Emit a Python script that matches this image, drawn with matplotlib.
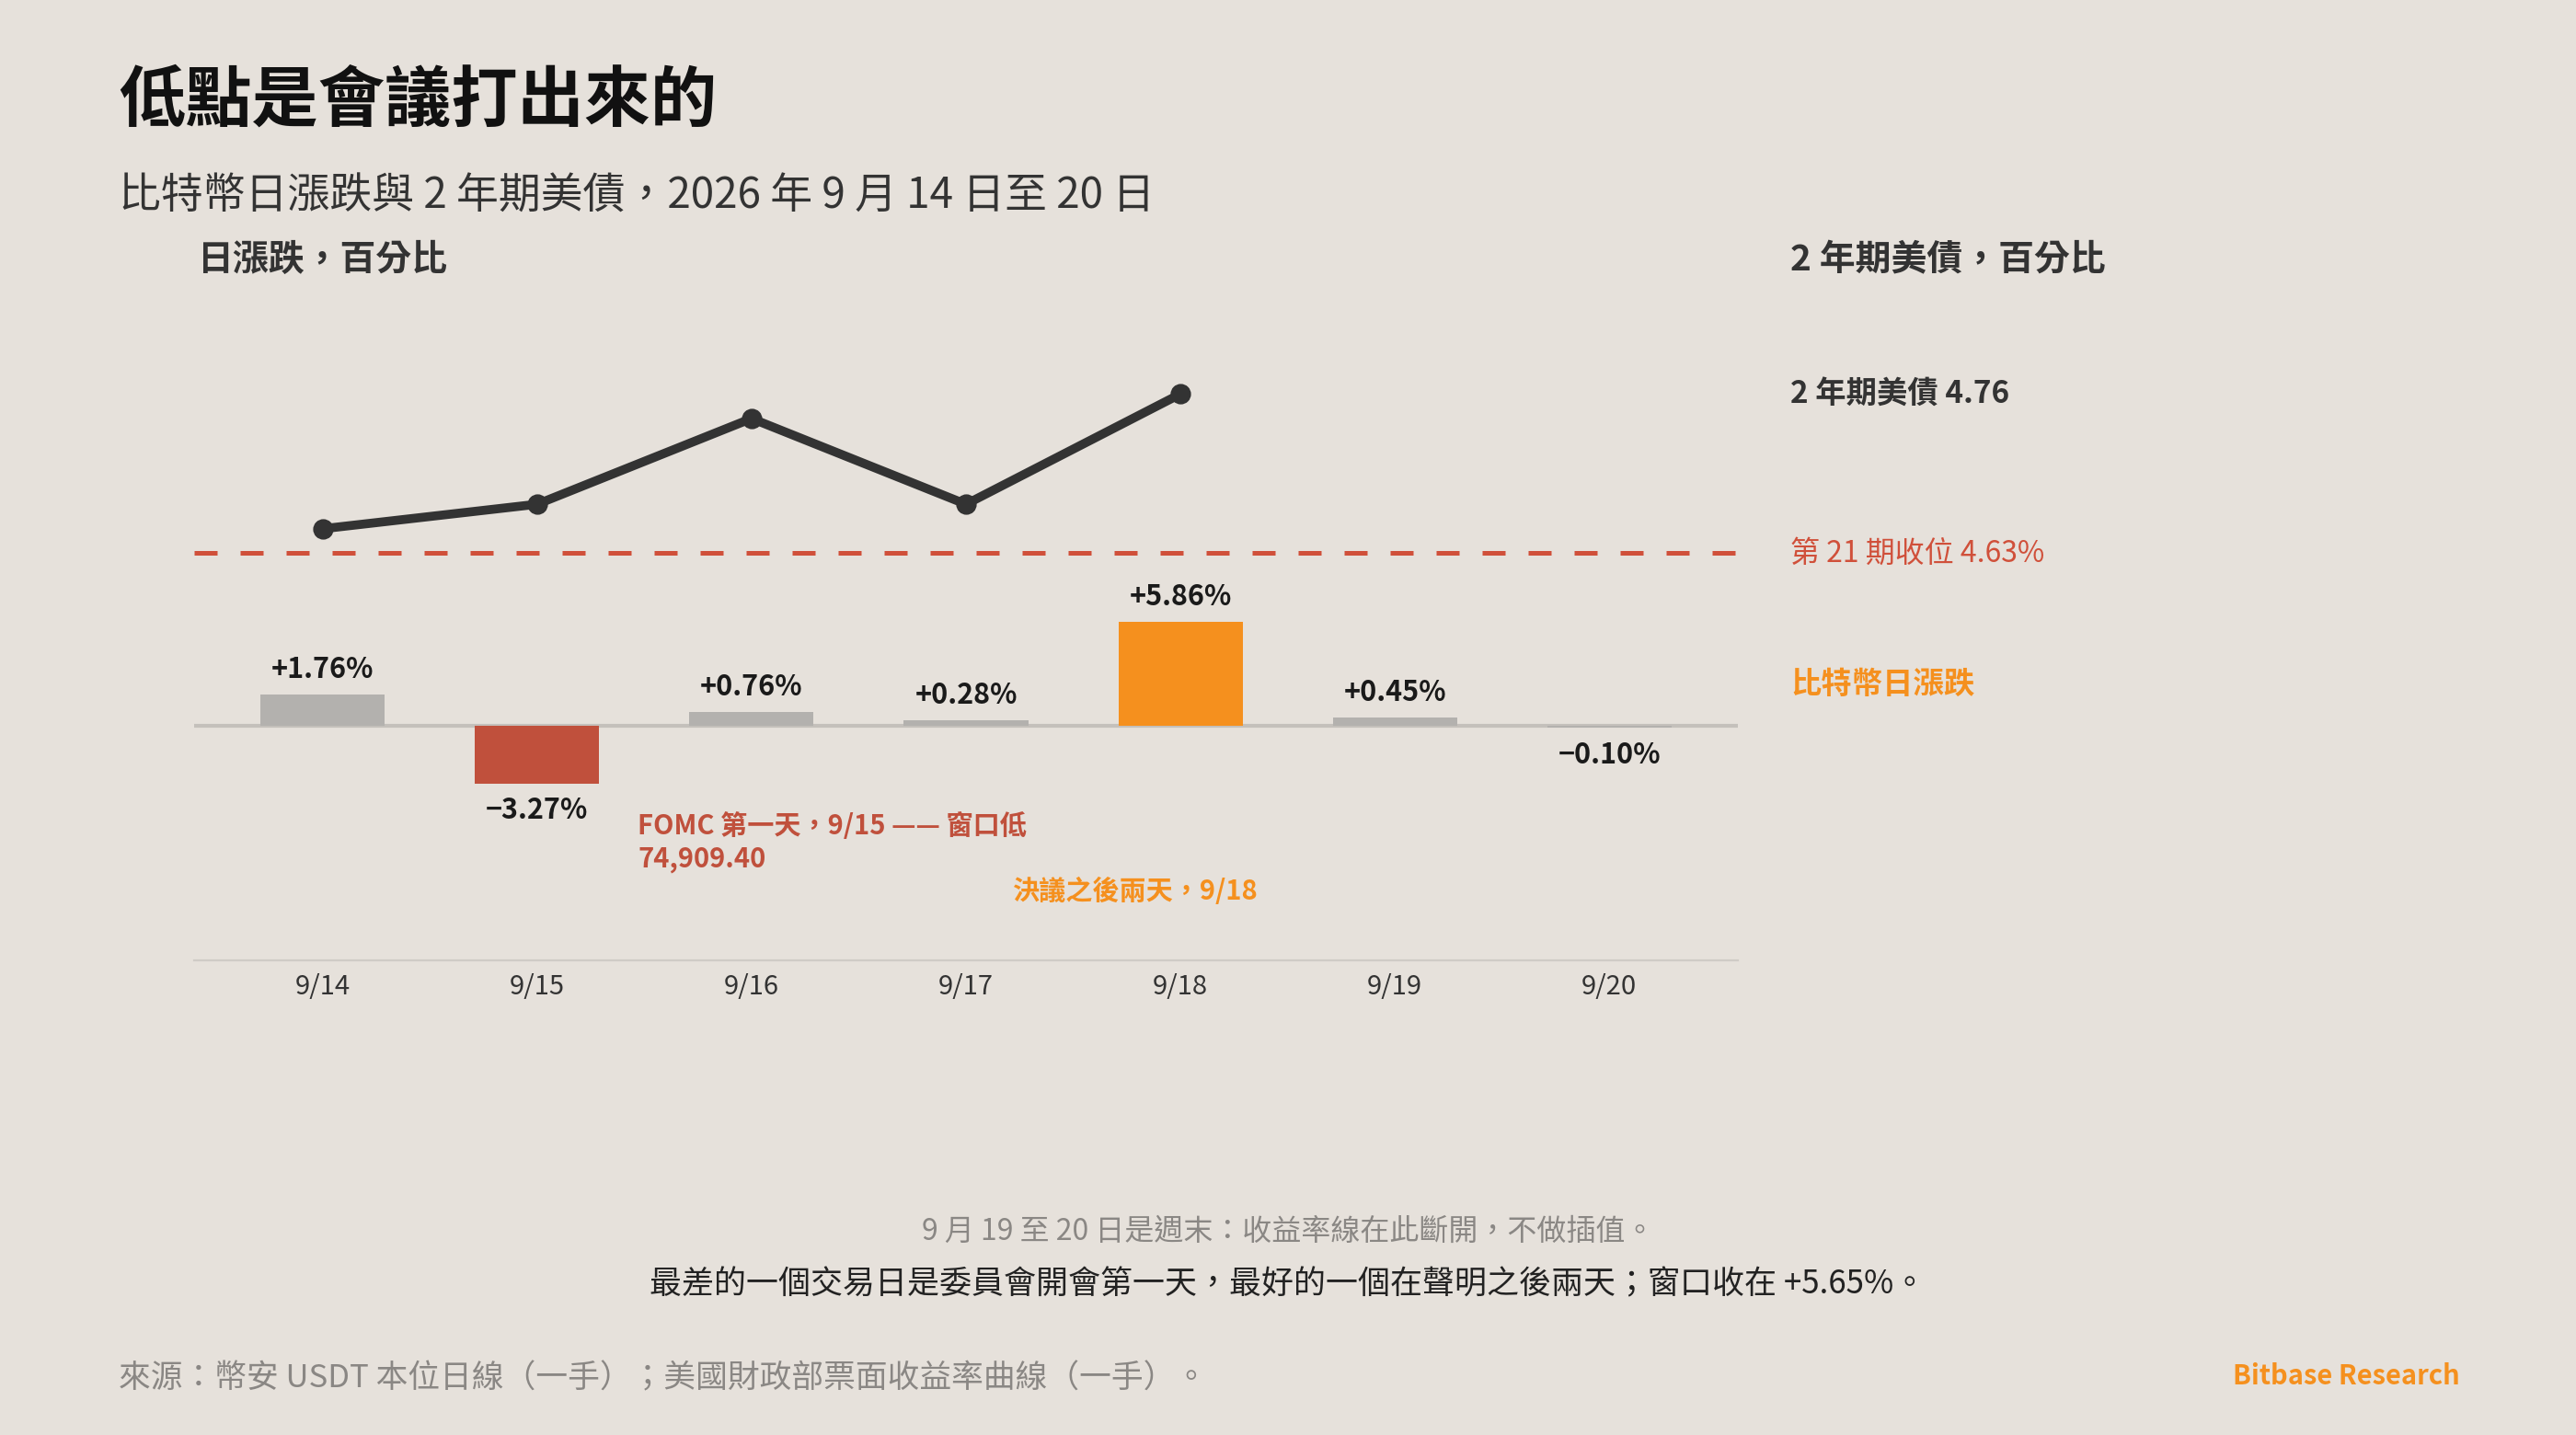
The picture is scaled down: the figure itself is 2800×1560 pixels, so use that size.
import matplotlib
matplotlib.use('Agg')
import matplotlib.pyplot as plt

plt.rcParams['font.family'] = ['Noto Sans CJK TC', 'DejaVu Sans']

# ── data ──────────────────────────────────────────────
days = ['9/14', '9/15', '9/16', '9/17', '9/18', '9/19', '9/20']
btc_change = [1.76, -3.27, 0.76, 0.28, 5.86, 0.45, -0.10]
bar_labels = ['+1.76%', '−3.27%', '+0.76%', '+0.28%', '+5.86%', '+0.45%', '−0.10%']
yield_2y = [4.65, 4.67, 4.74, 4.67, 4.76]   # 9/14 - 9/18, weekend no data
ref_level = 4.63

BG = '#e6e1db'
GREY = '#b3b1ae'
RED = '#c0503c'
ORANGE = '#f5901e'
DARK = '#333333'

fig = plt.figure(figsize=(14, 7.8), dpi=200, facecolor=BG)
ax = fig.add_axes([0.0753, 0.3307, 0.5994, 0.4405])
ax.set_facecolor('none')
x = list(range(len(days)))
colors = [GREY, RED, GREY, GREY, ORANGE, GREY, GREY]
ax.bar(x, btc_change, width=0.58, color=colors, zorder=2)
ax.axhline(0, color='#c4c0bb', lw=1.5, zorder=1)
ax.set_xlim(-0.6, 6.6)
ax.set_ylim(-13.3, 22.5)
for i, (v, lab) in enumerate(zip(btc_change, bar_labels)):
    if v >= 0:
        ax.annotate(lab, (i, v), xytext=(0, 4), textcoords='offset points',
                    ha='center', va='bottom', fontsize=11, fontweight='bold', color='#1a1a1a')
    else:
        ax.annotate(lab, (i, v), xytext=(0, -5), textcoords='offset points',
                    ha='center', va='top', fontsize=11, fontweight='bold', color='#1a1a1a')
ax.set_xticks(x)
ax.set_xticklabels(days, fontsize=10.5, color='#333333')
ax.tick_params(axis='x', length=0, pad=5)
ax.set_yticks([])
for s in ['top', 'left', 'right']:
    ax.spines[s].set_visible(False)
ax.spines['bottom'].set_color('#cfcbc6')

ax.text(1.47, -4.9, 'FOMC 第一天，9/15 —— 窗口低\n74,909.40', color=RED, fontsize=10.5,
        fontweight='bold', va='top', ha='left', linespacing=1.25)
ax.text(3.22, -9.4, '決議之後兩天，9/18', color=ORANGE, fontsize=10.5,
        fontweight='bold', va='center', ha='left')

ax2 = ax.twinx()
ax2.set_ylim(4.2976, 4.8136)
ax2.plot(x[:len(yield_2y)], yield_2y, color=DARK, lw=3.5, marker='o', ms=7, zorder=4)
ax2.axhline(ref_level, color='#d0503a', lw=1.8, dashes=(5, 5))
ax2.axis('off')

# ── text ──────────────────────────────────────────────
fig.text(0.046, 0.929, '低點是會議打出來的', fontsize=26, fontweight='bold', color='#111111', va='center')
fig.text(0.046, 0.863, '比特幣日漲跌與 2 年期美債，2026 年 9 月 14 日至 20 日', fontsize=16.5,
         color='#333333', va='center')
fig.text(0.0765, 0.819, '日漲跌，百分比', fontsize=14, fontweight='bold', color=DARK, va='center')
fig.text(0.695, 0.819, '2 年期美債，百分比', fontsize=14, fontweight='bold', color=DARK, va='center')
fig.text(0.695, 0.725, '2 年期美債 4.76', fontsize=12, fontweight='bold', color=DARK, va='center')
fig.text(0.695, 0.614, '第 21 期收位 4.63%', fontsize=11.5, color='#d0503a', va='center')
fig.text(0.695, 0.523, '比特幣日漲跌', fontsize=12, fontweight='bold', color=ORANGE, va='center')

fig.text(0.5, 0.142, '9 月 19 至 20 日是週末：收益率線在此斷開，不做插值。', fontsize=11.5,
         color='#8a8784', ha='center', va='center')
fig.text(0.5, 0.105, '最差的一個交易日是委員會開會第一天，最好的一個在聲明之後兩天；窗口收在 +5.65%。',
         fontsize=12.6, color='#222222', ha='center', va='center')
fig.text(0.046, 0.039, '來源：幣安 USDT 本位日線（一手）；美國財政部票面收益率曲線（一手）。', fontsize=12.5,
         color='#8a8784', va='center')
fig.text(0.955, 0.041, 'Bitbase Research', fontsize=10.5, fontweight='bold', color=ORANGE,
         ha='right', va='center')

fig.savefig('out.png', dpi=200, facecolor=BG)
